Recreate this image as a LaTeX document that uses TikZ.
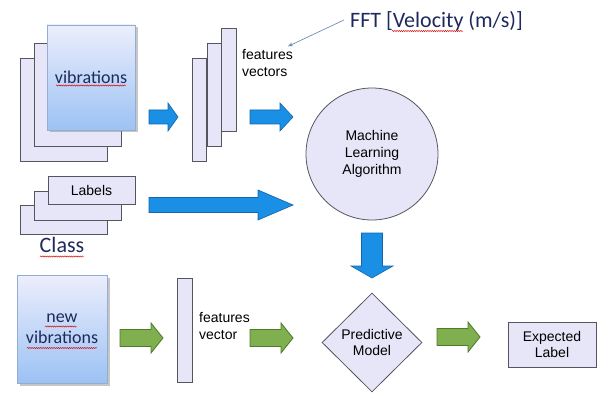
\documentclass[tikz,border=0pt]{standalone}
\usepackage{fontspec}
\setmainfont{Liberation Sans}
\newfontfamily\calfont{Carlito}
\usetikzlibrary{shapes.geometric,shadows,decorations.pathmorphing,arrows.meta}

\definecolor{lav}{HTML}{E6E6F8}
\definecolor{edge}{HTML}{555560}
\definecolor{navy}{HTML}{1F2A5C}
\definecolor{gradtop}{HTML}{ECEEFC}
\definecolor{gradbot}{HTML}{9CC2F4}
\definecolor{bluefill}{HTML}{1A8FE6}
\definecolor{blueedge}{HTML}{1565A8}
\definecolor{greenfill}{HTML}{80AF50}
\definecolor{greenedge}{HTML}{4E7A2A}
\definecolor{pointer}{HTML}{6E8FB8}

% block arrow pointing right: x0, x1, y centre, shaft half, head half, head start, style
\newcommand{\blockright}[7]{%
  \draw[#7] (#1,{#3-#4}) -- (#6,{#3-#4}) -- (#6,{#3-#5}) -- (#2,#3)
    -- (#6,{#3+#5}) -- (#6,{#3+#4}) -- (#1,{#3+#4}) -- cycle;}
% block arrow pointing down: x centre, y0, y1, shaft half, head half, head start, style
\newcommand{\blockdown}[7]{%
  \draw[#7] ({#1-#4},#2) -- ({#1+#4},#2) -- ({#1+#4},#6) -- ({#1+#5},#6)
    -- (#1,#3) -- ({#1-#5},#6) -- ({#1-#4},#6) -- ({#1-#4},#2) -- cycle;}

\tikzset{
  sheet/.style={draw=edge, fill=lav, line width=0.8pt, inner sep=0pt},
  gradsheet/.style={draw=gradbot!70!gray, line width=0.5pt, inner sep=0pt,
    top color=gradtop, bottom color=gradbot,
    drop shadow={shadow xshift=2.5pt, shadow yshift=-2.5pt, opacity=0.45}},
  bluearrow/.style={fill=bluefill, draw=blueedge, line width=0.6pt},
  greenarrow/.style={fill=greenfill, draw=greenedge, line width=0.8pt},
  arial/.style={font=\fontsize{14}{16.7}\selectfont, text=black, align=center},
  navytext/.style={text=navy, align=center},
  spell/.style={draw=red!85!black, line width=0.45pt,
    decorate, decoration={snake, segment length=2.2pt, amplitude=0.6pt}},
}

\begin{document}
\begin{tikzpicture}[x=1pt, y=-1pt]
\useasboundingbox (0,0) rectangle (600,393);

% stack of vibration records
\node[sheet, minimum width=87pt, minimum height=103pt] (vib3) at (63.5,109.5) {};
\node[sheet, minimum width=87pt, minimum height=103pt] (vib2) at (77.5,95) {};
\node[gradsheet, minimum width=88pt, minimum height=105pt,
      font=\calfont\fontsize{18}{20}\selectfont, navytext] (vib1) at (91,77.5) {vibrations};
\draw[spell] (56,85.5) -- (126,85.5);

% stack of feature vectors
\node[sheet, minimum width=14pt, minimum height=103pt] (fv3) at (199,109.5) {};
\node[sheet, minimum width=14pt, minimum height=103pt] (fv2) at (214,95) {};
\node[sheet, minimum width=15pt, minimum height=103pt] (fv1) at (228.5,79.5) {};
\node[arial, anchor=west, align=left, inner sep=0pt] (fvtext) at (242,63) {features\\vectors};

% FFT caption and its pointer
\node[font=\calfont\fontsize{22}{24}\selectfont, text=navy, inner sep=0pt] (fft) at (436.5,21) {FFT [Velocity (m/s)]};
\draw[spell] (392,31) -- (463,31);
\draw[pointer, line width=0.7pt, -{Stealth[length=5pt,width=4pt]}]
  ([xshift=-6pt,yshift=1pt]fft.west) -- ([xshift=-5pt,yshift=3pt]fvtext.north east);

% learning algorithm
\node[circle, draw=edge, fill=lav, line width=0.8pt, minimum size=132pt, arial] (mla) at (372,154)
  {Machine\\Learning\\Algorithm};

% stack of labels
\node[sheet, minimum width=87pt, minimum height=29pt] (lab3) at (63.5,219.5) {};
\node[sheet, minimum width=87pt, minimum height=29pt] (lab2) at (77.5,205.5) {};
\node[sheet, minimum width=87pt, minimum height=28pt, arial] (lab1) at (91.5,190) {Labels};
\node[font=\calfont\fontsize{22}{24}\selectfont, text=navy, inner sep=0pt] (class) at (62,245) {Class};
\draw[spell] (40,256.5) -- (84,256.5);

% training arrows
\blockright{149}{178}{117}{7}{14}{168}{bluearrow}
\blockright{250}{293}{117}{7}{14}{280}{bluearrow}
\blockright{149}{293}{205}{7.5}{15}{258}{bluearrow}
\blockdown{372}{233}{278}{10.5}{21}{266}{bluearrow}

% prediction row
\node[gradsheet, minimum width=90pt, minimum height=108pt,
      font=\calfont\fontsize{18}{21}\selectfont, navytext] (newvib) at (62,329) {new\\vibrations};
\draw[spell] (45,326.5) -- (77,326.5);
\draw[spell] (27,348) -- (97,348);

\node[sheet, minimum width=15pt, minimum height=104pt] (fvec) at (184.5,330) {};
\node[arial, anchor=west, align=left, inner sep=0pt] (fvectext) at (199,326) {features\\vector};

\node[diamond, draw=edge, fill=lav, line width=0.8pt, inner sep=0pt,
      minimum width=100pt, minimum height=99pt, arial] (pm) at (372,342.5) {Predictive\\Model};

\node[sheet, minimum width=88pt, minimum height=45pt, arial] (exp) at (552,344.5) {Expected\\Label};

\blockright{120}{163}{338}{8.5}{15}{151}{greenarrow}
\blockright{250}{293}{338}{8.5}{15}{281}{greenarrow}
\blockright{437}{480}{337}{8.5}{15}{468}{greenarrow}

\end{tikzpicture}
\end{document}
